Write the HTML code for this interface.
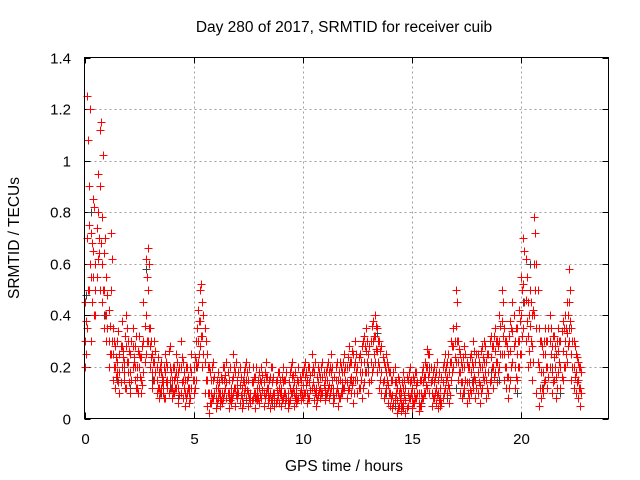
<!DOCTYPE html>
<html><head><meta charset="utf-8"><style>
body{margin:0;background:#fff}
svg{display:block;font-family:"Liberation Sans",sans-serif}
</style></head><body>
<svg id="chart" width="640" height="480" viewBox="0 0 640 480">
<text x="344" y="32" font-size="15.5" text-anchor="middle">Day 280 of 2017, SRMTID for receiver cuib</text>
<text x="344" y="471" font-size="15.5" text-anchor="middle">GPS time / hours</text>
<text x="0" y="0" font-size="15.5" text-anchor="middle" transform="translate(19,238) rotate(-90)">SRMTID / TECUs</text>
<g id="grid"></g>
<g id="ticks"></g>
<g id="marks"></g>
<rect x="84.5" y="57.5" width="524" height="361" fill="none" stroke="#000" stroke-width="1"/>
</svg>
<script>
const xTicks=[0,5,10,15,20];
const yTicks=[0,0.2,0.4,0.6,0.8,1,1.2,1.4];
const yTickLabels=["0","0.2","0.4","0.6","0.8","1","1.2","1.4"];
const sampleStep=0.1;
const redA=[0.45,1.25,0.9,0.72,0.85,0.6,0.95,1.12,0.78,0.64,0.55,0.42,0.72,0.35,0.28,0.3,0.25,0.38,0.22,0.4,0.3,0.25,0.35,0.28,0.2,0.32,0.24,0.45,0.62,0.66,0.35,0.25,0.3,0.2,0.18,0.22,0.15,0.25,0.2,0.28,0.15,0.2,0.25,0.18,0.3,0.22,0.15,0.2,0.12,0.25,0.2,0.3,0.42,0.5,0.45,0.35,0.25,0.2,0.15,0.22,0.12,0.18,0.1,0.15,0.2,0.22,0.15,0.12,0.25,0.18,0.15,0.2,0.12,0.18,0.22,0.15,0.1,0.2,0.16,0.12,0.18,0.2,0.14,0.22,0.12,0.16,0.2,0.1,0.15,0.18,0.12,0.2,0.15,0.1,0.18,0.22,0.14,0.12,0.2,0.15,0.18,0.22,0.15,0.2,0.25,0.18,0.12,0.2,0.16,0.22,0.15,0.2,0.18,0.25,0.12,0.2,0.15,0.22,0.18,0.25,0.2,0.28,0.22,0.25,0.3,0.2,0.25,0.28,0.32,0.35,0.25,0.3,0.38,0.4,0.35,0.3,0.28,0.22,0.25,0.2,0.18,0.15,0.2,0.12,0.15,0.1,0.18,0.12,0.15,0.2,0.12,0.15,0.18,0.1,0.15,0.2,0.22,0.27,0.25,0.15,0.2,0.18,0.15,0.12,0.2,0.25,0.22,0.18,0.3,0.35,0.5,0.3,0.25,0.2,0.28,0.22,0.2,0.25,0.3,0.22,0.25,0.2,0.28,0.3,0.22,0.25,0.32,0.28,0.35,0.3,0.4,0.5,0.35,0.3,0.25,0.38,0.45,0.3,0.35,0.42,0.55,0.7,0.62,0.45,0.5,0.4,0.78,0.6,0.35,0.3,0.25,0.35,0.3,0.4,0.28,0.32,0.25,0.35,0.3,0.38,0.4,0.45,0.58,0.35,0.3,0.25,0.22,0.2];
const redB=[0.2,0.35,0.5,0.3,0.55,0.4,0.62,0.5,0.45,0.35,0.3,0.2,0.25,0.15,0.12,0.18,0.1,0.2,0.15,0.12,0.18,0.1,0.2,0.15,0.12,0.2,0.1,0.18,0.25,0.3,0.2,0.12,0.15,0.1,0.08,0.12,0.1,0.08,0.12,0.15,0.08,0.1,0.12,0.06,0.1,0.08,0.05,0.1,0.06,0.12,0.1,0.15,0.22,0.28,0.2,0.1,0.05,0.02,0.06,0.08,0.04,0.08,0.05,0.06,0.1,0.08,0.04,0.06,0.1,0.05,0.08,0.06,0.04,0.1,0.08,0.05,0.06,0.08,0.04,0.07,0.06,0.08,0.05,0.1,0.06,0.04,0.08,0.05,0.07,0.06,0.05,0.08,0.06,0.04,0.07,0.1,0.05,0.06,0.08,0.07,0.08,0.1,0.06,0.08,0.12,0.07,0.05,0.09,0.08,0.1,0.07,0.1,0.08,0.12,0.06,0.1,0.05,0.08,0.1,0.12,0.08,0.12,0.1,0.06,0.15,0.1,0.12,0.08,0.14,0.18,0.1,0.15,0.2,0.22,0.18,0.12,0.1,0.08,0.12,0.06,0.05,0.04,0.08,0.02,0.05,0.03,0.06,0.02,0.05,0.08,0.04,0.06,0.08,0.03,0.05,0.08,0.1,0.12,0.1,0.05,0.08,0.06,0.04,0.05,0.08,0.12,0.1,0.06,0.15,0.2,0.22,0.15,0.1,0.08,0.12,0.06,0.08,0.1,0.12,0.08,0.1,0.06,0.12,0.15,0.08,0.1,0.15,0.12,0.18,0.14,0.2,0.25,0.15,0.12,0.08,0.15,0.22,0.12,0.15,0.2,0.25,0.35,0.3,0.2,0.22,0.15,0.4,0.1,0.05,0.08,0.1,0.15,0.12,0.2,0.1,0.15,0.08,0.18,0.12,0.15,0.2,0.22,0.3,0.15,0.12,0.1,0.08,0.05];
const redC=[0.3,0.7,0.75,0.55,0.65,0.5,0.8,0.9,0.6,0.5,0.4,0.3,0.5,0.25,0.2,0.22,0.18,0.28,0.18,0.28,0.22,0.18,0.28,0.2,0.16,0.25,0.15,0.3,0.4,0.5,0.28,0.18,0.22,0.15,0.12,0.18,0.12,0.18,0.15,0.2,0.12,0.15,0.18,0.12,0.2,0.15,0.1,0.15,0.1,0.18,0.15,0.22,0.3,0.38,0.32,0.22,0.15,0.1,0.1,0.15,0.08,0.12,0.08,0.1,0.15,0.14,0.1,0.09,0.16,0.12,0.12,0.13,0.08,0.14,0.15,0.1,0.08,0.14,0.1,0.09,0.12,0.14,0.1,0.16,0.09,0.1,0.14,0.08,0.11,0.12,0.09,0.14,0.1,0.07,0.12,0.16,0.1,0.09,0.14,0.11,0.13,0.16,0.1,0.14,0.18,0.12,0.09,0.14,0.12,0.16,0.11,0.15,0.13,0.18,0.09,0.15,0.1,0.15,0.14,0.18,0.14,0.2,0.16,0.15,0.22,0.15,0.18,0.18,0.22,0.26,0.18,0.22,0.3,0.32,0.26,0.2,0.18,0.15,0.18,0.13,0.1,0.09,0.14,0.07,0.1,0.06,0.12,0.07,0.1,0.14,0.08,0.1,0.13,0.06,0.1,0.14,0.16,0.2,0.18,0.1,0.14,0.12,0.1,0.08,0.14,0.18,0.16,0.12,0.22,0.28,0.36,0.22,0.18,0.14,0.2,0.14,0.14,0.18,0.2,0.15,0.18,0.13,0.2,0.22,0.15,0.18,0.24,0.2,0.26,0.22,0.3,0.38,0.25,0.2,0.16,0.26,0.34,0.2,0.25,0.3,0.4,0.52,0.46,0.32,0.36,0.28,0.6,0.35,0.2,0.18,0.18,0.25,0.2,0.3,0.18,0.24,0.16,0.26,0.2,0.26,0.3,0.33,0.45,0.25,0.2,0.18,0.15,0.12];
const redD=[0.38,1.08,1.2,0.68,0.82,0.74,0.64,1.15,1.02,0.7,0.48,0.36,0.62,0.3,0.24,0.34,0.28,0.26,0.32,0.35,0.26,0.3,0.22,0.32,0.26,0.24,0.28,0.36,0.55,0.6,0.3,0.22,0.26,0.24,0.2,0.16,0.2,0.22,0.26,0.18,0.2,0.16,0.22,0.2,0.24,0.18,0.2,0.16,0.2,0.15,0.24,0.35,0.38,0.52,0.4,0.3,0.2,0.18,0.2,0.16,0.15,0.14,0.16,0.2,0.17,0.18,0.2,0.15,0.2,0.22,0.18,0.16,0.15,0.2,0.18,0.2,0.14,0.16,0.2,0.15,0.15,0.17,0.18,0.16,0.15,0.2,0.16,0.14,0.18,0.15,0.16,0.15,0.18,0.14,0.2,0.17,0.18,0.15,0.16,0.18,0.2,0.18,0.2,0.17,0.2,0.22,0.16,0.18,0.2,0.18,0.18,0.22,0.2,0.2,0.16,0.22,0.18,0.2,0.22,0.2,0.24,0.22,0.26,0.2,0.25,0.24,0.22,0.3,0.28,0.3,0.28,0.36,0.32,0.36,0.3,0.26,0.24,0.2,0.22,0.18,0.15,0.18,0.14,0.16,0.12,0.14,0.15,0.16,0.18,0.15,0.16,0.18,0.14,0.15,0.18,0.16,0.2,0.25,0.2,0.18,0.16,0.22,0.18,0.16,0.22,0.2,0.25,0.22,0.28,0.3,0.45,0.27,0.22,0.24,0.25,0.2,0.24,0.22,0.26,0.25,0.22,0.26,0.24,0.28,0.25,0.3,0.28,0.32,0.3,0.28,0.36,0.45,0.3,0.28,0.32,0.35,0.4,0.35,0.3,0.38,0.5,0.65,0.55,0.4,0.45,0.42,0.72,0.5,0.3,0.28,0.3,0.3,0.35,0.35,0.32,0.28,0.3,0.3,0.34,0.35,0.35,0.4,0.5,0.3,0.28,0.24,0.2,0.18];
const redE=[0.25,0.5,0.6,0.45,0.4,0.55,0.7,0.68,0.5,0.4,0.35,0.25,0.3,0.2,0.16,0.14,0.14,0.24,0.12,0.22,0.14,0.15,0.24,0.12,0.1,0.16,0.13,0.22,0.3,0.35,0.24,0.15,0.18,0.12,0.1,0.14,0.08,0.14,0.1,0.12,0.1,0.12,0.15,0.09,0.14,0.12,0.08,0.12,0.08,0.15,0.12,0.2,0.25,0.32,0.25,0.15,0.1,0.06,0.08,0.1,0.06,0.1,0.07,0.08,0.12,0.1,0.07,0.08,0.12,0.09,0.1,0.09,0.06,0.12,0.11,0.08,0.07,0.1,0.08,0.08,0.09,0.11,0.08,0.12,0.08,0.07,0.1,0.06,0.09,0.1,0.07,0.1,0.08,0.06,0.1,0.12,0.08,0.07,0.1,0.09,0.1,0.13,0.08,0.11,0.14,0.1,0.07,0.11,0.1,0.13,0.09,0.12,0.1,0.15,0.08,0.12,0.08,0.1,0.12,0.15,0.11,0.15,0.13,0.1,0.18,0.12,0.15,0.12,0.18,0.22,0.14,0.18,0.25,0.27,0.22,0.15,0.14,0.1,0.15,0.1,0.08,0.06,0.1,0.04,0.08,0.05,0.09,0.04,0.08,0.1,0.06,0.08,0.1,0.05,0.08,0.1,0.13,0.16,0.14,0.08,0.1,0.09,0.07,0.06,0.1,0.15,0.13,0.09,0.18,0.24,0.3,0.18,0.14,0.1,0.15,0.1,0.11,0.14,0.16,0.12,0.14,0.1,0.16,0.18,0.12,0.14,0.2,0.16,0.22,0.18,0.25,0.32,0.2,0.16,0.12,0.2,0.28,0.16,0.2,0.25,0.32,0.45,0.38,0.26,0.3,0.22,0.5,0.22,0.12,0.12,0.14,0.2,0.16,0.25,0.14,0.2,0.12,0.22,0.16,0.2,0.25,0.28,0.38,0.2,0.16,0.14,0.12,0.1];
const grayTimes=[0.05,0.3,0.6,0.9,1.2,1.5,1.8,2.1,2.4,2.8,3.1,3.5,3.9,4.3,4.7,5.1,5.4,5.8,6.2,6.6,7.0,7.4,7.8,8.2,8.6,9.0,9.4,9.8,10.2,10.6,11.0,11.4,11.8,12.2,12.6,13.0,13.4,13.8,14.2,14.6,15.0,15.4,15.8,16.2,16.6,17.0,17.4,17.8,18.2,18.6,19.0,19.4,19.8,20.1,20.4,20.7,21.0,21.4,21.8,22.2,22.6];
const grayValues=[0.48,0.8,0.62,0.4,0.25,0.15,0.2,0.12,0.2,0.58,0.15,0.1,0.12,0.08,0.1,0.2,0.45,0.1,0.06,0.08,0.1,0.07,0.08,0.1,0.06,0.09,0.12,0.08,0.1,0.12,0.08,0.1,0.12,0.15,0.12,0.2,0.33,0.1,0.05,0.04,0.08,0.06,0.2,0.1,0.08,0.12,0.1,0.15,0.12,0.18,0.15,0.25,0.1,0.45,0.6,0.35,0.12,0.2,0.1,0.35,0.08];

const X0=84.5,X1=608.5,Y0=418.5,Y1=57.5,XMAX=24,YMAX=1.4;
const xs=v=>X0+(X1-X0)*v/XMAX;
const ys=v=>Y0-(Y0-Y1)*v/YMAX;
const NS="http://www.w3.org/2000/svg";
const grid=document.getElementById('grid'),ticks=document.getElementById('ticks'),marks=document.getElementById('marks'),svg=document.getElementById('chart');
function mk(tag,attrs,parent){const e=document.createElementNS(NS,tag);for(const k in attrs)e.setAttribute(k,attrs[k]);parent.appendChild(e);return e;}
yTicks.forEach((v,i)=>{
  const y=Math.round(ys(v))+0.5;
  if(i>0&&i<yTicks.length-1){const g=mk('line',{x1:X0,x2:X1,y1:y,y2:y,stroke:'#a0a0a0','stroke-dasharray':'2,3'},grid);
  
  }
  mk('line',{x1:X0,x2:X0+6,y1:y,y2:y,stroke:'#000'},ticks);
  mk('line',{x1:X1-6,x2:X1,y1:y,y2:y,stroke:'#000'},ticks);
  const t=mk('text',{x:71,y:y+5,'font-size':15,'text-anchor':'end'},svg);
  t.textContent=yTickLabels[i];
  
  
});
xTicks.forEach(v=>{
  const x=Math.round(xs(v))+0.5;
  if(v>0){const g=mk('line',{x1:x,x2:x,y1:Y0,y2:Y1,stroke:'#a0a0a0','stroke-dasharray':'2,3'},grid);
  
  }
  mk('line',{x1:x,x2:x,y1:Y0,y2:Y0-6,stroke:'#000'},ticks);
  mk('line',{x1:x,x2:x,y1:Y1,y2:Y1+6,stroke:'#000'},ticks);
  const t=mk('text',{x:x,y:444,'font-size':15,'text-anchor':'middle'},svg);
  t.textContent=String(v);
  
  
});
function plus(t,v,color,name){
  const x=Math.round(xs(t))+0.5,y=Math.round(ys(v))+0.5;
  const p=mk('path',{d:`M${x-4} ${y}H${x+4}M${x} ${y-4}V${y+4}`,stroke:color,'stroke-width':1,fill:'none'},marks);
  
  
}
grayTimes.forEach((t,i)=>plus(t,grayValues[i],'#404040','gray-point'));
[redB,redC,redA].forEach(arr=>arr.forEach((v,i)=>plus(i*sampleStep,v,'#ff0000','red-point')));
[redE,redD].forEach(arr=>arr.forEach((v,i)=>plus(i*sampleStep+0.05,v,'#ff0000','red-point')));
</script>
</body></html>
